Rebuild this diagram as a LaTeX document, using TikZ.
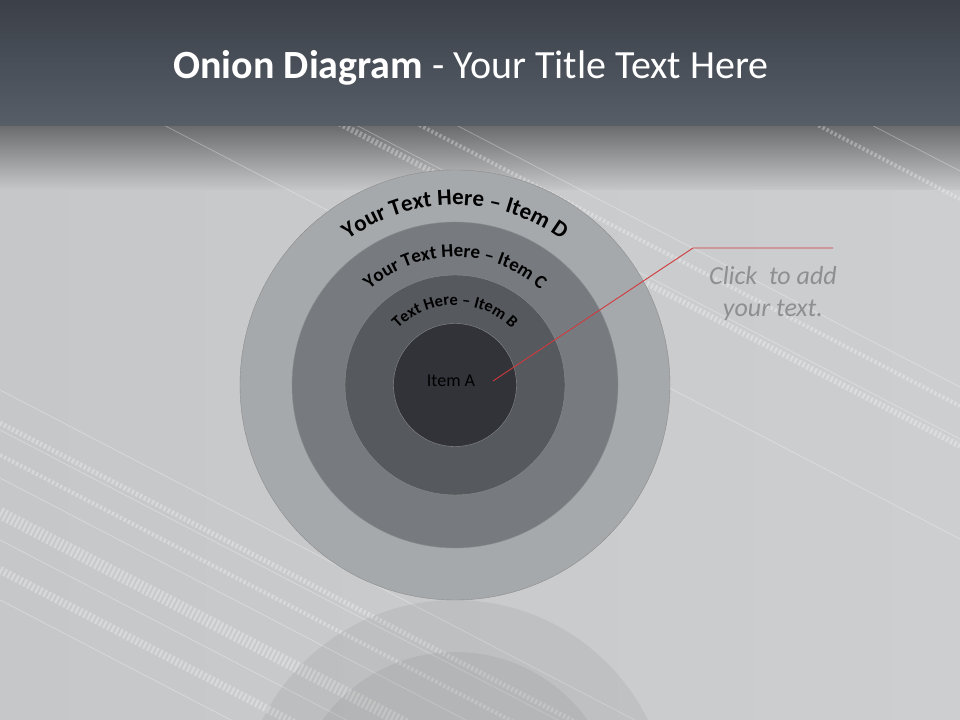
\documentclass[tikz,border=0pt]{standalone}
\usepackage{fontspec}
\setmainfont{Carlito}
\usetikzlibrary{decorations.text}

\definecolor{barTop}{HTML}{3B4048}
\definecolor{barBottom}{HTML}{575E68}
\definecolor{bgLeft}{HTML}{C6C7C9}
\definecolor{bgRight}{HTML}{CDCECF}
\definecolor{ringD}{HTML}{A6A9AC}
\definecolor{ringC}{HTML}{777B7F}
\definecolor{ringB}{HTML}{56595D}
\definecolor{ringA}{HTML}{313338}
\definecolor{callRed}{HTML}{D0393E}
\definecolor{hintGray}{HTML}{8E8F91}

\tikzset{
  ring/.style={circle, inner sep=0pt, draw=black!45, line width=0.4bp},
  ringtext/.style={decorate, decoration={text along path, text align=center, text={#1}}},
  stripe/.style={white, opacity=0.3, line width=0.8bp},
  track/.style={white, opacity=0.3, line width=#1, dash pattern=on 2.5bp off 2bp},
}

\begin{document}
\begin{tikzpicture}[x=1bp, y=1bp]
    \useasboundingbox (0,0) rectangle (960,720);
    % Background and title bar
    \shade[left color=bgLeft, right color=bgRight] (0,0) rectangle (960,593);
    \shade[top color=barTop, bottom color=barBottom] (0,593) rectangle (960,720);
    \shade[top color=black!45!bgLeft, bottom color=bgLeft] (0,530) rectangle (960,593);

    % Diagonal stripes
    \begin{scope}
        \clip (0,0) rectangle (960,593);
        \foreach \c in {390, 430, 478, 540, 600, -112, -60, -328, 40}
            \draw[stripe] (0,720-\c) -- (960,720-\c-499);
        \foreach \c/\w in {423/5bp, 455/4bp, 513/12bp, 570/8bp, -93/4bp, -53/6bp, -300/4bp}
            \draw[track=\w] (0,720-\c) -- (960,720-\c-499);
    \end{scope}

    % Reflection
    \fill[black, opacity=0.05] (455,-95) circle[radius=215bp];
    \fill[black, opacity=0.05] (455,-95) circle[radius=163bp];

    % Onion rings
    \node[ring, fill=ringD, minimum size=430bp] (itemD) at (455,335) {};
    \node[ring, fill=ringC, minimum size=326bp] (itemC) at (455,335) {};
    \node[ring, fill=ringB, minimum size=220bp] (itemB) at (455,335) {};
    \node[ring, fill=ringA, minimum size=123bp] (itemA) at (455,335) {};
    \node[text=black, font=\fontsize{18bp}{20bp}\selectfont] (labelA) at (451,339) {Item A};

    % Curved ring labels
    \path[ringtext={|\fontsize{23bp}{23bp}\selectfont\bfseries|Your Text Here – Item D}]
        ([shift={(170:180bp)}]itemD.center) arc[start angle=170, end angle=10, radius=180bp];
    \path[ringtext={|\fontsize{19bp}{19bp}\selectfont\bfseries|Your Text Here – Item C}]
        ([shift={(170:128bp)}]itemC.center) arc[start angle=170, end angle=10, radius=128bp];
    \path[ringtext={|\fontsize{16.5bp}{16.5bp}\selectfont\bfseries|Text Here – Item B}]
        ([shift={(170:80bp)}]itemB.center) arc[start angle=170, end angle=10, radius=80bp];

    % Callout
    \coordinate (pin) at (493,339);
    \coordinate (elbow) at (693,472);
    \coordinate (tail) at (833,472);
    \draw[callRed, line width=0.9bp] (pin) -- (elbow) -- (tail);
    \node[text=hintGray, align=center, font=\fontsize{26bp}{32bp}\selectfont\itshape] (hint) at (773,426) {Click\ \ to add\\your text.};

    % Title
    \node[text=white, font=\fontsize{40bp}{44bp}\selectfont] (title) at (471,652) {\textbf{Onion Diagram} - Your Title Text Here};
\end{tikzpicture}
\end{document}
